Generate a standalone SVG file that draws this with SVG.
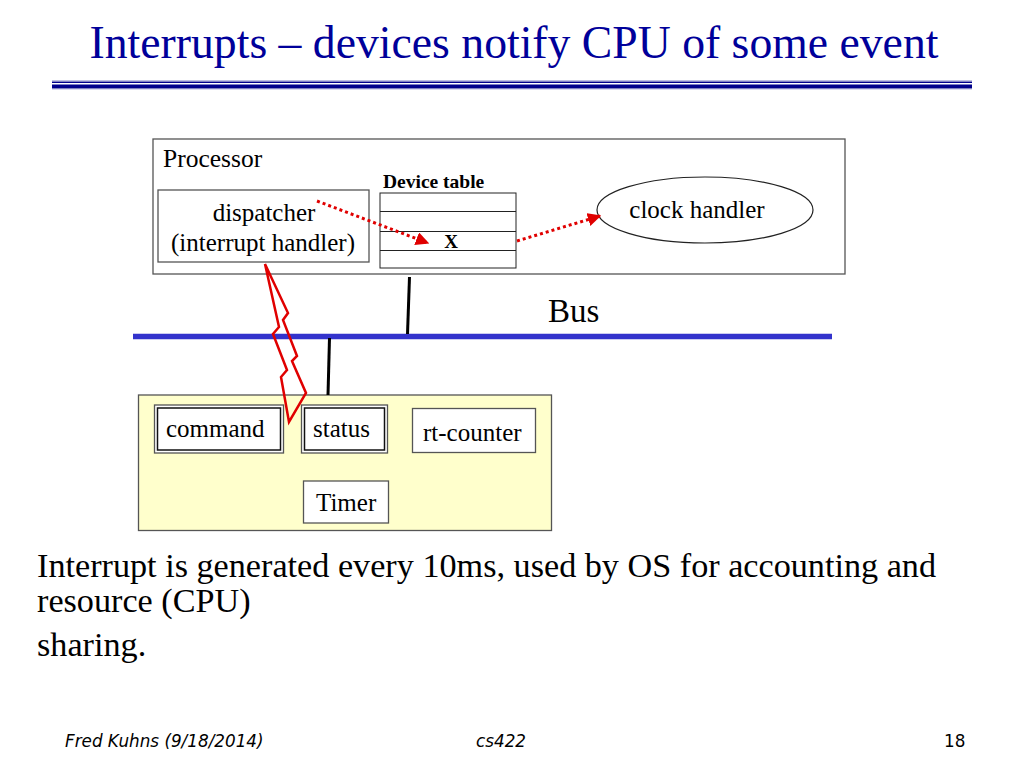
<svg xmlns="http://www.w3.org/2000/svg" width="1024" height="768" viewBox="0 0 1024 768">
<defs>
<marker id="arr" viewBox="0 0 10 10" refX="9" refY="5" markerWidth="4.5" markerHeight="4.5" orient="auto" markerUnits="strokeWidth">
<path d="M0,0 L10,5 L0,10 z" fill="#e00000"/>
</marker>
<style>
.t{font-family:"Liberation Serif","Times New Roman",serif;fill:#000}
.box{fill:#fff;stroke:#555;stroke-width:1.3}
.dot{fill:none;stroke:#e00000;stroke-width:3;stroke-dasharray:3,3}
.foot{font-family:"Comic Sans MS","DejaVu Sans",sans-serif;font-style:italic;font-size:16.8px;fill:#000}
</style>
</defs>
<rect width="1024" height="768" fill="#fff"/>
<text class="t" x="514" y="58" text-anchor="middle" style="font-size:45.7px;fill:#00009a">Interrupts – devices notify CPU of some event</text>
<rect x="52" y="81.5" width="920" height="1.5" fill="#00008b"/>
<rect x="52" y="84.5" width="920" height="4" fill="#00008b"/>
<rect x="52" y="80.5" width="920" height="0.8" fill="#8080c0"/>
<rect x="52" y="88.5" width="920" height="0.8" fill="#8080c0"/>

<g id="processor">
<rect class="box" x="153" y="139" width="692" height="135"/>
<text class="t" x="163" y="167" style="font-size:25.5px">Processor</text>
</g>
<g id="dispatcher">
<rect class="box" x="158" y="190" width="211" height="72"/>
<text class="t" x="264" y="221" text-anchor="middle" style="font-size:25px">dispatcher</text>
<text class="t" x="263" y="251" text-anchor="middle" style="font-size:25px">(interrupt handler)</text>
</g>
<g id="device-table">
<text class="t" x="383" y="188" style="font-size:19.5px;font-weight:bold">Device table</text>
<rect x="380" y="193" width="136" height="75" fill="#fff" stroke="#222" stroke-width="1"/>
<line x1="380" y1="211.5" x2="516" y2="211.5" stroke="#222" stroke-width="1"/>
<line x1="380" y1="231.5" x2="516" y2="231.5" stroke="#222" stroke-width="1"/>
<line x1="380" y1="250.5" x2="516" y2="250.5" stroke="#222" stroke-width="1"/>
<text class="t" x="451" y="248" text-anchor="middle" style="font-size:19px;font-weight:bold">X</text>
</g>
<g id="clock-handler">
<ellipse cx="705" cy="210" rx="108" ry="33" fill="#fff" stroke="#222" stroke-width="1.2"/>
<text class="t" x="697" y="218" text-anchor="middle" style="font-size:25px">clock handler</text>
</g>
<g id="bus">
<line x1="133" y1="336.5" x2="832" y2="336.5" stroke="#3333cc" stroke-width="5.5"/>
<text class="t" x="548" y="322" style="font-size:33px">Bus</text>
</g>
<g id="timer">
<rect x="138.5" y="395" width="413" height="135.5" fill="#ffffcc" stroke="#555" stroke-width="1.3"/>
<rect x="154.5" y="405" width="129" height="48" fill="#fff" stroke="#555" stroke-width="1.3"/>
<rect x="157.5" y="408" width="123" height="42" fill="none" stroke="#111" stroke-width="1.5"/>
<text class="t" x="166" y="437" style="font-size:25px">command</text>
<rect x="301.5" y="405" width="86" height="48" fill="#fff" stroke="#555" stroke-width="1.3"/>
<rect x="304.5" y="408" width="80" height="42" fill="none" stroke="#111" stroke-width="1.5"/>
<text class="t" x="313" y="437" style="font-size:25px">status</text>
<rect class="box" x="412.5" y="408.5" width="123" height="44"/>
<text class="t" x="423" y="441" style="font-size:25px">rt-counter</text>
<rect class="box" x="303.5" y="481" width="85" height="42"/>
<text class="t" x="316" y="511" style="font-size:25px">Timer</text>
</g>
<g id="connectors">
<line x1="409.5" y1="277" x2="407.5" y2="334" stroke="#000" stroke-width="3"/>
<line x1="329.5" y1="338" x2="328" y2="395" stroke="#000" stroke-width="3"/>
<line class="dot" x1="317" y1="201" x2="428" y2="243" marker-end="url(#arr)"/>
<line class="dot" x1="517" y1="241" x2="600" y2="216" marker-end="url(#arr)"/>
<polygon points="265,264 288,313 283,320 297,356 292,361 306,393 289,422 281,377 287,370 273,334 279,327" fill="none" stroke="#e00000" stroke-width="2.5" stroke-linejoin="miter"/>
</g>
<g id="body">
<text class="t" x="37" y="577" style="font-size:34.2px">Interrupt is generated every 10ms, used by OS for accounting and</text>
<text class="t" x="37" y="612" style="font-size:34.2px">resource (CPU)</text>
<text class="t" x="37" y="656" style="font-size:34.2px">sharing.</text>
</g>
<g id="footer">
<text class="foot" x="65" y="747">Fred Kuhns (9/18/2014)</text>
<text class="foot" x="476" y="747">cs422</text>
<text class="foot" x="944" y="747" style="font-style:normal">18</text>
</g>
</svg>
